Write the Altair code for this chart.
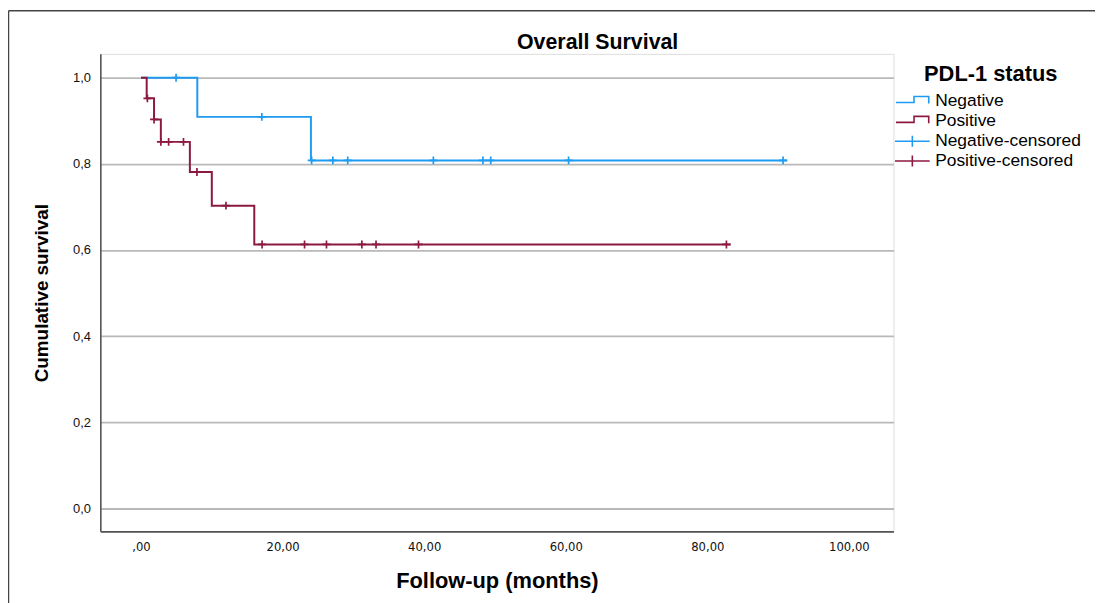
import altair as alt
import pandas as pd

# ---- data ----
categories = ["Negative", "Positive", "Negative-censored", "Positive-censored"]
colors = ["#1f9bf0", "#8c1a40", "#1f9bf0", "#8c1a40"]

# step-function knots (time, cumulative survival)
neg_times = [0, 7.95, 24.0, 91.3]
neg_surv = [1.0, 0.909, 0.808, 0.808]
pos_times = [0, 0.8, 1.84, 2.8, 6.9, 10.0, 16.0, 83.3]
pos_surv = [1.0, 0.952, 0.903, 0.851, 0.781, 0.703, 0.613, 0.613]

# censored observations
neg_cens_times = [4.95, 17.07, 24.1, 27.1, 29.2, 41.3, 48.3, 49.4, 60.4, 90.7]
neg_cens_surv = [1.0, 0.909, 0.808, 0.808, 0.808, 0.808, 0.808, 0.808, 0.808, 0.808]
pos_cens_times = [0.9, 1.84, 2.8, 3.9, 6.0, 7.9, 12.0, 17.1, 23.1, 26.2, 31.2, 33.2, 39.2, 82.7]
pos_cens_surv = [0.952, 0.903, 0.851, 0.851, 0.851, 0.781, 0.703,
                 0.613, 0.613, 0.613, 0.613, 0.613, 0.613, 0.613]

x_ticks = [0, 20, 40, 60, 80, 100]
y_ticks = [0.0, 0.2, 0.4, 0.6, 0.8, 1.0]
chart_title = ["Overall Survival"]

# ---- tables ----
lines = pd.DataFrame({
    "time": neg_times + pos_times,
    "surv": neg_surv + pos_surv,
    "status": ["Negative"] * len(neg_times) + ["Positive"] * len(pos_times),
})
cens = pd.DataFrame({
    "time": neg_cens_times + pos_cens_times,
    "surv": neg_cens_surv + pos_cens_surv,
    "status": ["Negative-censored"] * len(neg_cens_times)
    + ["Positive-censored"] * len(pos_cens_times),
})

STEP = "M-1.65,0.1L0.17,0.1L0.17,-0.5L1.65,-0.5L1.65,0.2"
PLUS_LEG = "M-1.75,0L1.75,0M0,-0.55L0,0.55"
PLUS = "M-1,0L1,0M0,-1L0,1"

color_scale = alt.Scale(domain=categories, range=colors)
shape_scale = alt.Scale(domain=categories, range=[STEP, STEP, PLUS_LEG, PLUS_LEG])

legend = alt.Legend(
    title="PDL-1 status",
    orient="none", legendX=807, legendY=10,
    titleFont="Liberation Sans", titleFontSize=22, titleFontWeight="bold",
    titleColor="#000000", titleAnchor="middle", titlePadding=5,
    labelFont="Liberation Sans", labelFontSize=17.5, labelColor="#000000",
    labelOffset=12, labelLimit=300,
    symbolSize=400, symbolStrokeWidth=1.6, rowPadding=0, padding=0,
)

x_enc = alt.X(
    "time:Q",
    scale=alt.Scale(domain=[-5.75, 106.3], nice=False, zero=False),
    axis=alt.Axis(
        values=x_ticks, grid=False, ticks=False,
        labelExpr="datum.value == 0 ? ',00' : replace(format(datum.value, '.2f'), '.', ',')",
        labelFont="Liberation Sans Narrow, DejaVu Sans Condensed, Liberation Sans",
        labelFontSize=13, labelColor="#111111", labelPadding=9,
        title="Follow-up (months)", titleFont="Liberation Sans", titleFontSize=22,
        titleFontWeight="bold", titleColor="#000000", titleY=50, titleBaseline="middle",
        domainColor="#555555", domainWidth=1.6,
    ),
)
y_enc = alt.Y(
    "surv:Q",
    scale=alt.Scale(domain=[-0.053, 1.0553], nice=False, zero=False),
    axis=alt.Axis(
        values=y_ticks, grid=True, ticks=False,
        labelExpr="replace(format(datum.value, '.1f'), '.', ',')",
        labelFont="Liberation Sans", labelFontSize=13, labelColor="#111111",
        labelPadding=10,
        gridColor="#b9b9b9", gridWidth=1.8,
        title="Cumulative survival", titleFont="Liberation Sans", titleFontSize=19,
        titleFontWeight="bold", titleColor="#000000", titleX=-59.5, titleY=240.6,
        titleBaseline="middle", titleAngle=-90,
        domainColor="#555555", domainWidth=1.6,
    ),
)

line_layer = alt.Chart(lines).mark_line(interpolate="step-after", strokeWidth=2).encode(
    x=x_enc, y=y_enc,
    color=alt.Color("status:N", scale=color_scale, legend=legend),
)

cens_layer = alt.Chart(cens).mark_point(shape=PLUS, size=64, filled=False, strokeWidth=1.7, opacity=1).encode(
    x=x_enc, y=y_enc,
    color=alt.Color("status:N", scale=color_scale, legend=legend),
)

# legend helper (draws nothing, only supplies per-entry legend symbols)
legend_layer = alt.Chart(cens).transform_filter("false").mark_point(filled=False, opacity=1).encode(
    x=x_enc, y=y_enc,
    color=alt.Color("status:N", scale=color_scale, legend=legend),
    shape=alt.Shape("status:N", scale=shape_scale, legend=legend),
)

title_layer = alt.Chart(pd.DataFrame({"t": chart_title})).mark_text(
    font="Liberation Sans", fontSize=21.5, fontWeight="bold", color="#000000",
    align="center", baseline="middle",
).encode(text="t:N", x=alt.value(501), y=alt.value(-11))

frame = alt.Chart(pd.DataFrame({"k": [0]})).mark_rule(color="#444444", strokeWidth=1.5).encode(
    x=alt.value(-92.5), y=alt.value(-43.5), y2=alt.value(560)
)
frame_top = alt.Chart(pd.DataFrame({"k": [0]})).mark_rule(color="#444444", strokeWidth=1.5).encode(
    x=alt.value(-92.5), x2=alt.value(1010), y=alt.value(-43.5)
)

chart = alt.layer(line_layer, cens_layer, legend_layer, title_layer, frame, frame_top).properties(
    width=799, height=481,
    autosize=alt.AutoSizeParams(type="none"),
    padding={"left": 93, "top": 44, "right": 203, "bottom": 70},
).configure_view(stroke=None).configure(background="white")

chart.save("out.html", embed_options={"renderer": "svg", "actions": False})
